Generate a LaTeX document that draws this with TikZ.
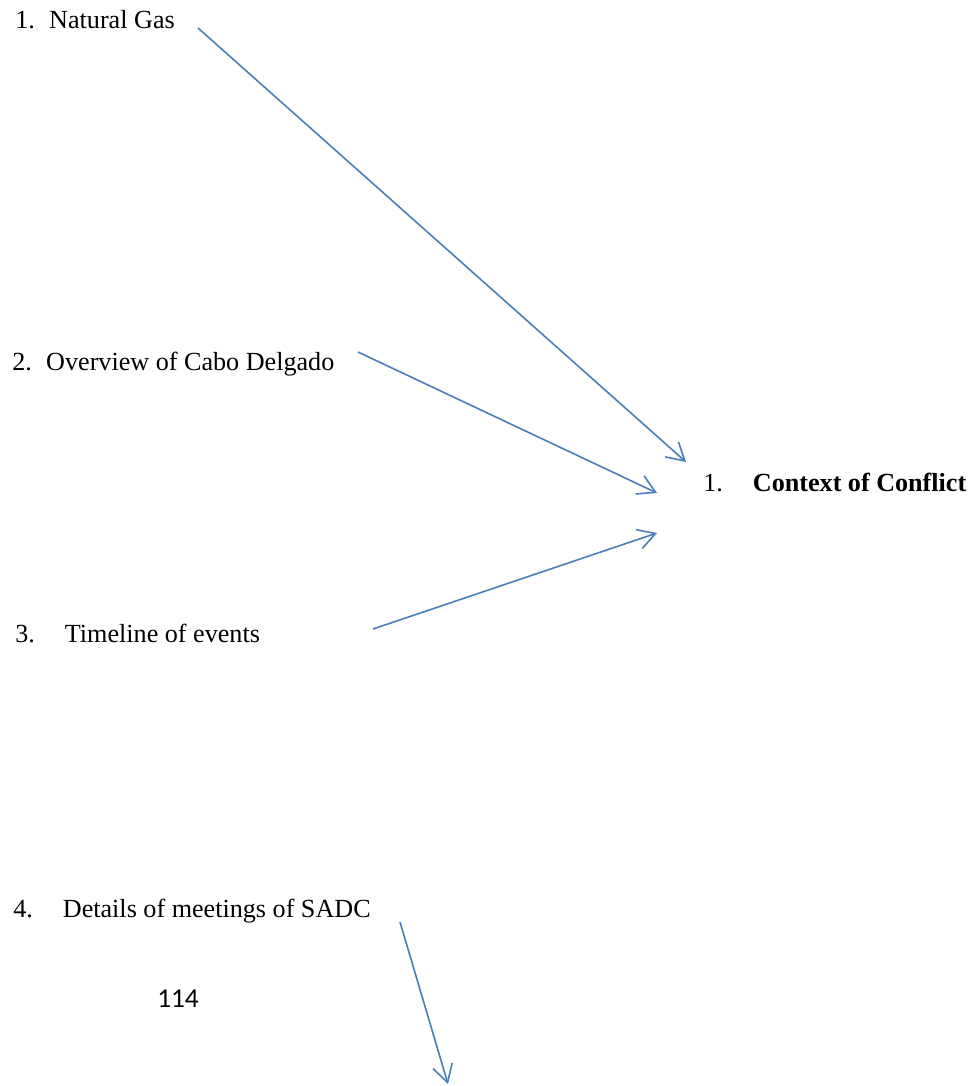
\documentclass[tikz,border=0pt]{standalone}
\usepackage{fontspec}
\setmainfont{Liberation Serif}
\newfontfamily\calibrifont{Carlito}
\usetikzlibrary{arrows.meta}
\definecolor{linkblue}{HTML}{4A7EBB}

\tikzset{
  item/.style={anchor=base west, inner sep=0pt, font=\fontsize{19.6}{24}\selectfont},
  link/.style={draw=linkblue, line width=1.2pt, -{Straight Barb[length=13pt, width=15pt, line width=1.2pt]}}
}

\begin{document}
\begin{tikzpicture}[x=0.75pt, y=-0.75pt]
        % page frame
        \useasboundingbox (0,0) rectangle (973,1086);

        % items on the left
        \node[item] (gas) at (15,28) {1.\hspace{0.55em}Natural Gas};
        \node[item] (cabo) at (12,370) {2.\hspace{0.55em}Overview of Cabo Delgado};
        \node[item] (time) at (15,642) {3.\hspace{1.15em}Timeline of events};
        \node[item] (sadc) at (13,917) {4.\hspace{1.15em}Details of meetings of SADC};
        \node[item] (ctx) at (703,491) {1.\hspace{1.15em}\textbf{Context of Conflict}};
        \node[anchor=base west, inner sep=0pt, font=\calibrifont\fontsize{20.5}{24}\selectfont] (page) at (157,1007) {114};

        % arrow ends
        \coordinate (s1) at (198,28);
        \coordinate (s2) at (358,352);
        \coordinate (s3) at (373,629);
        \coordinate (s4) at (400,922);
        \coordinate (t1) at (686,462);
        \coordinate (t2) at (657,493);
        \coordinate (t3) at (657,533);
        \coordinate (t4) at (448,1084);

        % arrows
        \draw[link] (s1) -- (t1);
        \draw[link] (s2) -- (t2);
        \draw[link] (s3) -- (t3);
        \draw[link] (s4) -- (t4);
\end{tikzpicture}
\end{document}
